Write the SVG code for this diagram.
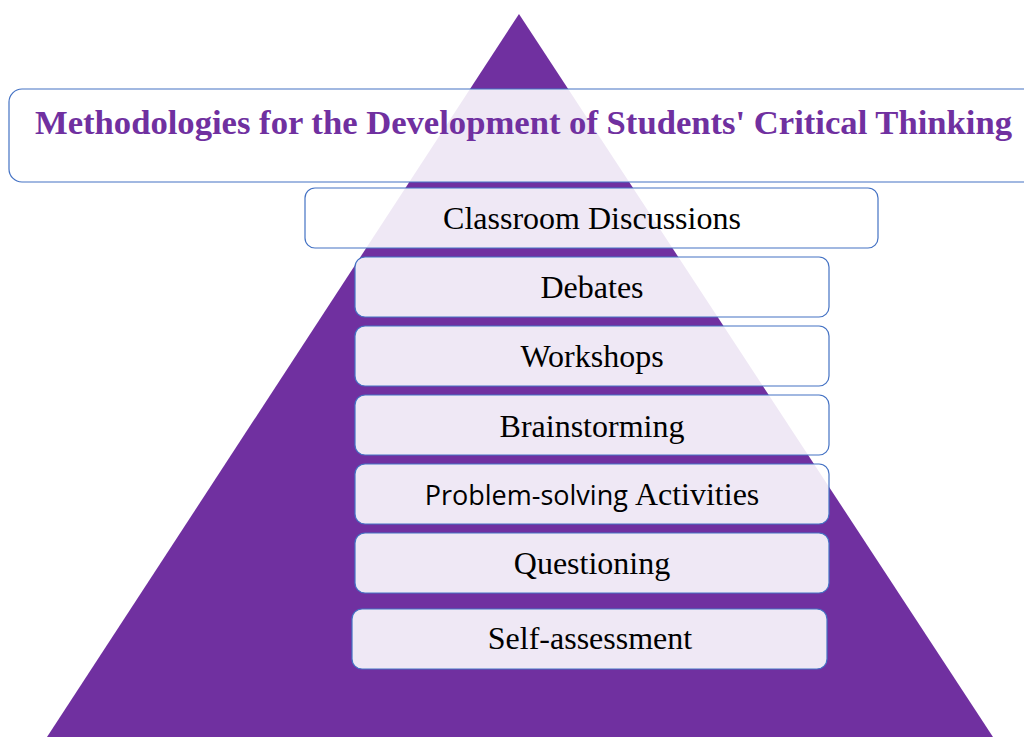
<svg xmlns="http://www.w3.org/2000/svg" width="1024" height="737" viewBox="0 0 1024 737">
<style>
.box{fill:#ffffff;fill-opacity:0.89;stroke:#4472C4;stroke-width:1.2}
.lbl{font-family:"Liberation Serif","Times New Roman",serif;font-size:32px;fill:#000;text-anchor:middle}
.sans{font-family:"Open Sans","Liberation Sans",sans-serif;font-size:27px}
.title{font-family:"Liberation Serif","Times New Roman",serif;font-weight:bold;font-size:34px;fill:#7030A0;text-anchor:middle}
</style>
<rect width="1024" height="737" fill="#ffffff"/>
<polygon id="pyramid" points="519,14 993,737 47,737" fill="#7030A0"/>
<g id="title">
<rect class="box" x="9" y="89" width="1030" height="93" rx="13"/>
<text class="title" x="523.5" y="134" textLength="977" lengthAdjust="spacingAndGlyphs">Methodologies for the Development of Students' Critical Thinking</text>
</g>
<g id="n1"><rect class="box" x="305" y="188" width="573" height="60" rx="10"/><text class="lbl" x="592" y="229">Classroom Discussions</text></g>
<g id="n2"><rect class="box" x="355" y="257" width="474" height="60" rx="10"/><text class="lbl" x="592" y="298">Debates</text></g>
<g id="n3"><rect class="box" x="355" y="326" width="474" height="60" rx="10"/><text class="lbl" x="592" y="367">Workshops</text></g>
<g id="n4"><rect class="box" x="355" y="395" width="474" height="60" rx="10"/><text class="lbl" x="592" y="437">Brainstorming</text></g>
<g id="n5"><rect class="box" x="355" y="464" width="474" height="60" rx="10"/><text class="lbl" x="592" y="505"><tspan class="sans">Problem-solving </tspan>Activities</text></g>
<g id="n6"><rect class="box" x="355" y="533" width="474" height="60" rx="10"/><text class="lbl" x="592" y="574">Questioning</text></g>
<g id="n7"><rect class="box" x="352" y="609" width="475" height="60" rx="10"/><text class="lbl" x="590" y="649">Self-assessment</text></g>
<g id="connectors"/>
</svg>
